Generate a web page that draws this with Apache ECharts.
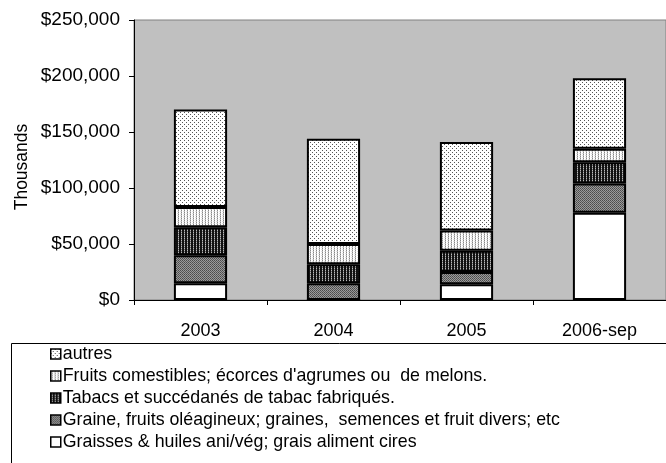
<!DOCTYPE html>
<html>
<head>
<meta charset="utf-8">
<script src="https://cdn.jsdelivr.net/npm/echarts@6/dist/echarts.min.js"></script>
<style>
  html, body { margin: 0; padding: 0; background: #fff; }
  #chart { width: 666px; height: 463px; }
</style>
</head>
<body>
<div id="chart"></div>
<script>
// data (thousands of $)
const years = ['2003', '2004', '2005', '2006-sep'];
const graisses = [15000, 0, 14000, 78000];
const graine = [25000, 15000, 11000, 26000];
const tabacs = [25000, 17000, 19000, 19000];
const fruits = [18000, 18000, 18000, 12000];
const autres = [87000, 94000, 79000, 63000];
const yTicks = [0, 50000, 100000, 150000, 200000, 250000];

// little tiles for the Excel-like fill patterns
function tile(w, h, bg, dots) {
  let c = document.createElement('canvas');
  c.width = w; c.height = h;
  let ctx = c.getContext('2d');
  ctx.fillStyle = bg;
  ctx.fillRect(0, 0, w, h);
  dots.forEach(d => {
    ctx.fillStyle = d[2];
    ctx.fillRect(d[0], d[1], 1, 1);
  });
  return { image: c, repeat: 'repeat' };
}

const patAutres = tile(4, 4, '#ffffff', [[0, 0, '#555'], [2, 2, '#555']]);
const patFruits = tile(3, 2, '#ffffff', [[1, 0, '#888'], [1, 1, '#c0c0c0'], [0, 1, '#e0e0e0']]);
const patTabacs = tile(3, 2, '#111111', [[1, 0, '#bbb'], [1, 1, '#666']]);
const patGraine = tile(2, 2, '#9a9a9a', [[0, 0, '#4a4a4a'], [1, 1, '#5a5a5a']]);

let chart = echarts.init(document.getElementById('chart'), null, { renderer: 'canvas' });

function bar(name, data, color) {
  return {
    name: name,
    type: 'bar',
    stack: 'total',
    barWidth: '40%',
    data: data,
    itemStyle: { color: color, borderColor: '#000', borderWidth: 2 },
    emphasis: { disabled: true }
  };
}

let option = {
  animation: false,
  textStyle: { fontFamily: 'Liberation Sans, Arial, sans-serif' },
  grid: { left: 134, top: 20, width: 536, height: 280, containLabel: false,
    show: true, backgroundColor: '#c0c0c0', borderColor: '#808080', borderWidth: 1 },
  xAxis: {
    type: 'category',
    data: years,
    axisLine: { lineStyle: { color: '#000', width: 1 } },
    axisTick: { show: true, length: 5, lineStyle: { color: '#000' } },
    axisLabel: { color: '#000', fontSize: 18, margin: 22 }
  },
  yAxis: {
    type: 'value',
    min: 0,
    max: 250000,
    interval: 50000,
    axisLine: { show: true, lineStyle: { color: '#000', width: 1 } },
    axisTick: { show: true, length: 5, lineStyle: { color: '#000' } },
    splitLine: { show: false },
    axisLabel: {
      color: '#000', fontSize: 19, margin: 14,
      formatter: v => yTicks.indexOf(v) >= 0 ? '$' + v.toLocaleString('en-US') : ''
    }
  },
  legend: {
    orient: 'vertical',
    left: 50,
    top: 345,
    padding: 0,
    itemWidth: 10,
    itemHeight: 10,
    itemGap: 4,
    icon: 'rect',
    data: ['autres',
      "Fruits comestibles; écorces d'agrumes ou  de melons.",
      'Tabacs et succédanés de tabac fabriqués.',
      'Graine, fruits oléagineux; graines,  semences et fruit divers; etc',
      'Graisses & huiles ani/vég; grais aliment cires'],
    textStyle: { color: '#000', fontSize: 17.8, padding: [0, 0, 0, -3] },
    itemStyle: { borderColor: '#000', borderWidth: 1.5 }
  },
  graphic: [{
    type: 'rect',
    shape: { x: 11.5, y: 343.5, width: 700, height: 200 },
    style: { fill: 'none', stroke: '#000', lineWidth: 1 },
    z: -1
  }, {
    type: 'text',
    x: 22,
    y: 167,
    rotation: Math.PI / 2,
    style: { text: 'Thousands', fill: '#000', fontSize: 17.5,
      fontFamily: 'Liberation Sans, Arial, sans-serif',
      align: 'center', verticalAlign: 'middle' }
  }],
  series: [
    bar('Graisses & huiles ani/vég; grais aliment cires', graisses, '#ffffff'),
    bar('Graine, fruits oléagineux; graines,  semences et fruit divers; etc', graine, patGraine),
    bar('Tabacs et succédanés de tabac fabriqués.', tabacs, patTabacs),
    bar("Fruits comestibles; écorces d'agrumes ou  de melons.", fruits, patFruits),
    bar('autres', autres, patAutres)
  ]
};

chart.setOption(option);
</script>
</body>
</html>
